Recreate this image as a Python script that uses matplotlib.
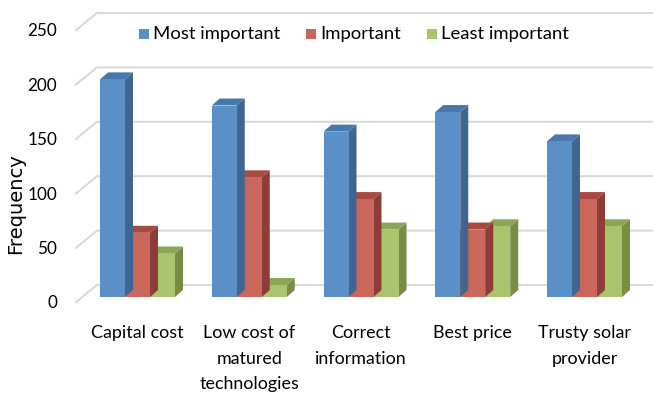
import matplotlib
matplotlib.use("Agg")
import matplotlib.pyplot as plt
from matplotlib import font_manager
from matplotlib.patches import Polygon

categories = ["Capital cost", "Low cost of\nmatured\ntechnologies", "Correct\ninformation",
              "Best price", "Trusty solar\nprovider"]
series_names = ["Most important", "Important", "Least important"]
most_important = [200, 176, 152, 170, 143]
important = [59, 110, 90, 62, 90]
least_important = [40, 11, 62, 65, 65]
yticks = [0, 50, 100, 150, 200, 250]

series = [most_important, important, least_important]
front_cols = ["#5B8FC8", "#CB665B", "#A9C46C"]
top_cols = ["#4A77AB", "#A84A41", "#8DA656"]
side_cols = ["#3F6592", "#8C3D36", "#788C46"]

W, H = 653, 394
fig = plt.figure(figsize=(W / 100, H / 100), dpi=100)
ax = fig.add_axes([0, 0, 1, 1])
plt.rcParams['font.family'] = ['Lato', 'DejaVu Sans']

# choose tick-label font
try:
    font_manager.findfont(font_manager.FontProperties(family="Liberation Sans Narrow"),
                          fallback_to_default=False)
    tick_family, tick_size = ["Liberation Sans Narrow"], 14.5
except Exception:
    tick_family, tick_size = ["Lato"], 12.3

# pixel mapping
px_x = 111.75           # px per category
px_y = 1.088            # px per value unit
x0_px = 137.5           # centre of first group
y0_px = 297             # bottom of bars (from top)
ax.set_xlim(-x0_px / px_x, (W - x0_px) / px_x)
ax.set_ylim(-(H - y0_px) / px_y, y0_px / px_y)
ax.axis("off")

bw = 25 / px_x
dx = 8 / px_x
dy = 7 / px_y

# walls / gridlines
back_dy = 12 / px_y
front_dy = -6 / px_y
wall_x_back = (97 - x0_px) / px_x
wall_x_front = (75 - x0_px) / px_x
for v in yticks:
    ax.plot([wall_x_front, wall_x_back, ax.get_xlim()[1]],
            [v + front_dy, v + back_dy, v + back_dy],
            color="#D9D9D9", lw=1.5, zorder=1, solid_capstyle="butt")
    ax.text((57 - x0_px) / px_x, v - 6.5 / px_y, str(v), ha="right", va="center",
            fontsize=tick_size, color="#000000", family=tick_family)

ax.text((16 - x0_px) / px_x, (y0_px - 204) / px_y, "Frequency", rotation=90,
        ha="center", va="center", fontsize=14, family=["DejaVu Sans"])

# bars
for i in range(len(categories)):
    for s, vals in enumerate(series):
        h = vals[i]
        xl = i - 1.5 * bw + s * bw
        xr = xl + bw
        z = 3 + i * 3 + (2 - s) * 0.1
        ax.add_patch(Polygon([(xr, 0), (xr + dx, dy), (xr + dx, h + dy), (xr, h)],
                             closed=True, facecolor=side_cols[s], edgecolor="none", zorder=z))
        ax.add_patch(Polygon([(xl, h), (xr, h), (xr + dx, h + dy), (xl + dx, h + dy)],
                             closed=True, facecolor=top_cols[s], edgecolor="none", zorder=z))
        ax.bar(xl, h, width=bw, align="edge", color=front_cols[s], zorder=z + 0.05,
               edgecolor="none")
    ax.text(i, -(325 - y0_px) / px_y, categories[i], ha="center", va="top",
            fontsize=12.9, linespacing=1.75)

# legend
leg_items = [(139, series_names[0]), (306, series_names[1]), (427, series_names[2])]
for s, (lx, name) in enumerate(leg_items):
    ax.add_patch(Polygon([((lx - x0_px) / px_x, (y0_px - 29) / px_y),
                          ((lx + 10 - x0_px) / px_x, (y0_px - 29) / px_y),
                          ((lx + 10 - x0_px) / px_x, (y0_px - 39) / px_y),
                          ((lx - x0_px) / px_x, (y0_px - 39) / px_y)],
                         closed=True, facecolor=front_cols[s], edgecolor="none", zorder=5))
    ax.text((lx + 14 - x0_px) / px_x, (y0_px - 34) / px_y, name, ha="left", va="center",
            fontsize=13.3)

fig.savefig("out.png", dpi=100)
